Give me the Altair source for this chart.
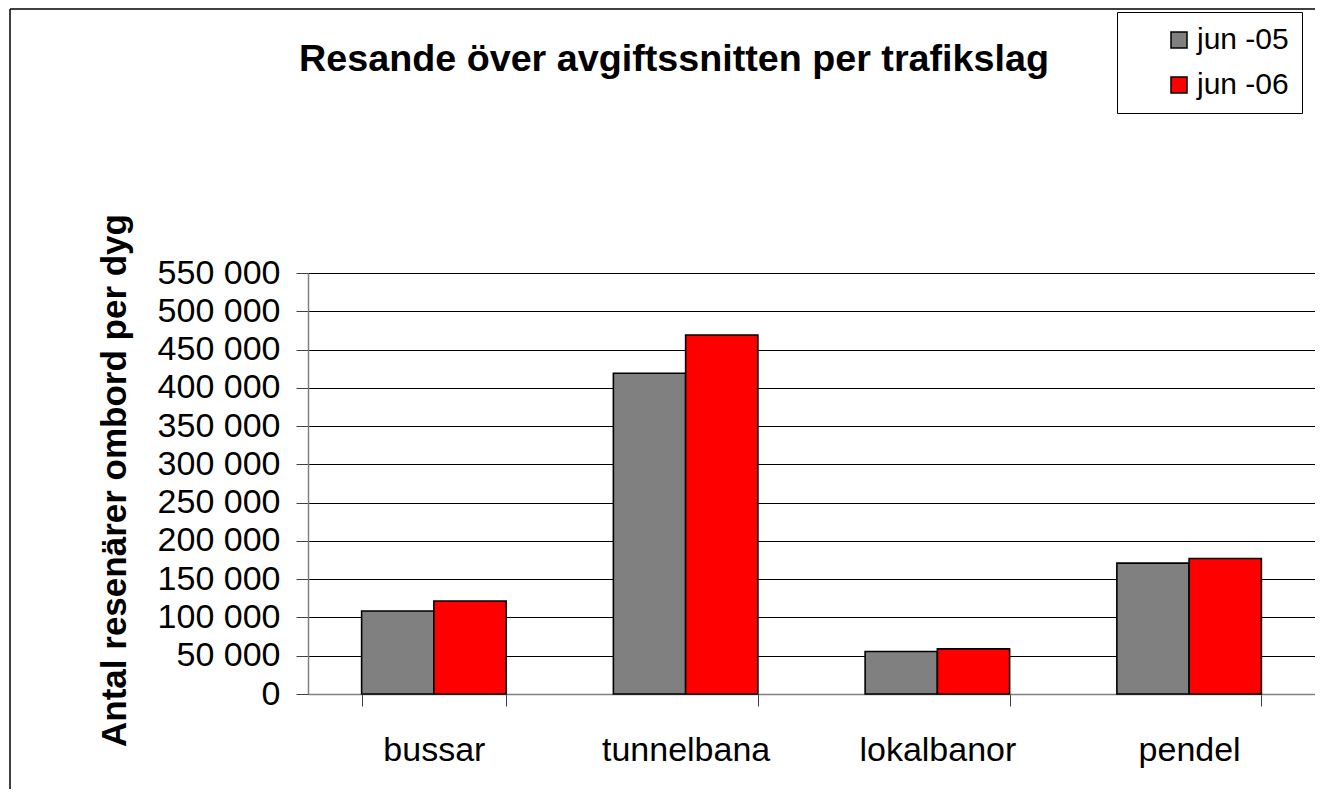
import altair as alt
import pandas as pd

categories = ["bussar", "tunnelbana", "lokalbanor", "pendel"]
series_names = ["jun -05", "jun -06"]
jun05 = [108500, 419000, 55500, 171000]
jun06 = [121500, 469000, 59000, 177000]
y_ticks = [0, 50000, 100000, 150000, 200000, 250000, 300000, 350000, 400000, 450000, 500000, 550000]
colors = ["#808080", "#FF0000"]

title_text = "Resande över avgiftssnitten per trafikslag"
y_title = "Antal resenärer ombord per dyg"

rows = []
for s, vals in zip(series_names, [jun05, jun06]):
    for c, v in zip(categories, vals):
        rows.append({"kategori": c, "period": s, "antal": v})
df = pd.DataFrame(rows)

FONT = "Liberation Sans"

bars = alt.Chart(df).mark_bar(stroke="black", strokeWidth=1.6).encode(
    x=alt.X("kategori:N", sort=categories, title=None,
            scale=alt.Scale(paddingInner=0.426, paddingOuter=0.213),
            axis=alt.Axis(tickBand="extent", tickSize=12, labelFontSize=34, labelFont=FONT,
                          labelBaseline="alphabetic", labelPadding=54, labelAngle=0,
                          labelColor="black", domainColor="#808080", domainWidth=1.5,
                          tickColor="#404040", grid=False)),
    xOffset=alt.XOffset("period:N", sort=series_names),
    y=alt.Y("antal:Q", scale=alt.Scale(domain=[0, 550000], nice=False),
            axis=alt.Axis(values=y_ticks, title=y_title, titleFont=FONT, titleFontSize=35,
                          titleFontWeight="bold", titleColor="black", titleAngle=270,
                          titleBaseline="alphabetic", titleAlign="center", titleX=-183, titleY=207,
                          labelExpr="replace(format(datum.value, ','), ',', ' ')",
                          labelFontSize=34, labelFont=FONT, labelColor="black", labelPadding=16,
                          tickSize=12, tickColor="#404040", domainColor="#808080", domainWidth=1.5,
                          grid=True, gridColor="black", gridWidth=1)),
    color=alt.Color("period:N", sort=series_names,
                    scale=alt.Scale(domain=series_names, range=colors),
                    legend=alt.Legend(title=None, orient="none", legendX=809, legendY=-261,
                                      labelFontSize=30, labelFont=FONT, labelColor="black",
                                      symbolType="square", symbolSize=256, symbolStrokeColor="black",
                                      symbolStrokeWidth=1.5, labelOffset=3, symbolOffset=34,
                                      padding=13, rowPadding=15, strokeColor="black",
                                      fillColor="white")),
)

one = alt.Data(values=[{"a": 1}])

title_mark = alt.Chart(one).mark_text(
    text=title_text, font=FONT, fontSize=37.7, fontWeight="bold", color="black",
    align="center", baseline="alphabetic"
).encode(x=alt.value(366), y=alt.value(-202))

frame_left = alt.Chart(one).mark_rule(color="black", strokeWidth=1.5).encode(
    x=alt.value(-298), y=alt.value(-264), y2=alt.value(516))
frame_top = alt.Chart(one).mark_rule(color="black", strokeWidth=1.5).encode(
    x=alt.value(-298), x2=alt.value(1007), y=alt.value(-264))

chart = alt.layer(bars, title_mark, frame_left, frame_top).properties(
    width=1007, height=421,
    autosize=alt.AutoSizeParams(type="none"),
    padding={"left": 300, "top": 265, "right": 0, "bottom": 95},
).configure_view(stroke="#808080", strokeWidth=2).configure(background="white")

chart.save("out.html", embed_options={"renderer": "svg", "actions": False})
